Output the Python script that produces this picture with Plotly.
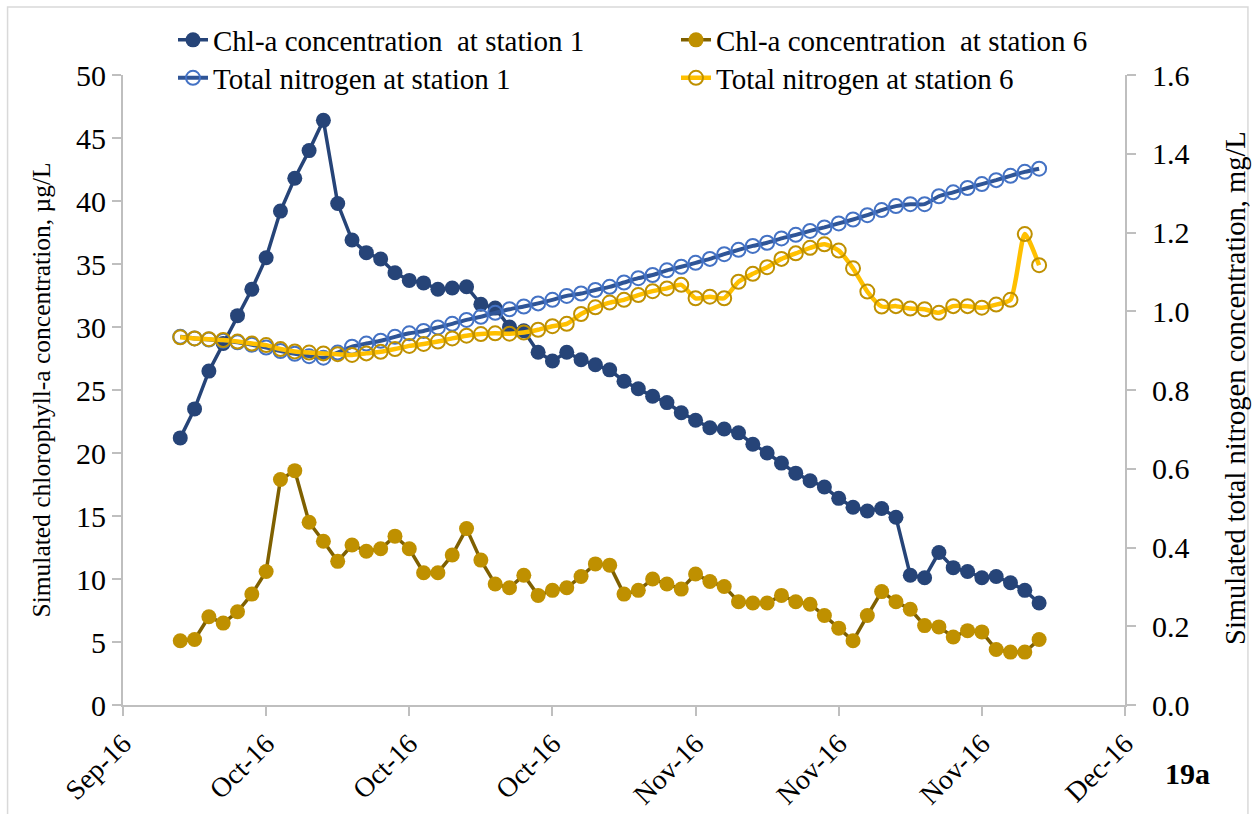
import plotly.graph_objects as go
import pandas as pd

# ---- data ----
dates = pd.date_range("2016-09-30", "2016-11-29", freq="D")

chl_st1 = [21.2, 23.5, 26.5, 28.7, 30.9, 33.0, 35.5, 39.2, 41.8, 44.0, 46.4,
           39.8, 36.9, 35.9, 35.4, 34.3, 33.7, 33.5, 33.0, 33.1, 33.2,
           31.8, 31.5, 30.0, 29.7, 28.0, 27.3, 28.0, 27.4, 27.0, 26.6,
           25.7, 25.1, 24.5, 24.0, 23.2, 22.6, 22.0, 21.9, 21.6, 20.7,
           20.0, 19.2, 18.4, 17.8, 17.3, 16.4, 15.7, 15.4, 15.6, 14.9,
           10.3, 10.1, 12.1, 10.9, 10.6, 10.1, 10.2, 9.7, 9.1, 8.1]

chl_st6 = [5.1, 5.2, 7.0, 6.5, 7.4, 8.8, 10.6, 17.9, 18.6, 14.5, 13.0,
           11.4, 12.7, 12.2, 12.4, 13.4, 12.4, 10.5, 10.5, 11.9, 14.0,
           11.5, 9.6, 9.3, 10.3, 8.7, 9.1, 9.3, 10.2, 11.2, 11.1,
           8.8, 9.1, 10.0, 9.6, 9.2, 10.4, 9.8, 9.4, 8.2, 8.1,
           8.1, 8.7, 8.2, 8.0, 7.1, 6.1, 5.1, 7.1, 9.0, 8.2,
           7.6, 6.3, 6.2, 5.4, 5.9, 5.8, 4.4, 4.2, 4.2, 5.2]

tn_st1 = [0.935, 0.931, 0.928, 0.925, 0.921, 0.915, 0.908, 0.899, 0.892, 0.886, 0.882,
          0.895, 0.910, 0.918, 0.925, 0.935, 0.944, 0.950, 0.959, 0.968, 0.978,
          0.986, 0.996, 1.005, 1.012, 1.020, 1.029, 1.039, 1.045, 1.054, 1.062,
          1.073, 1.084, 1.092, 1.104, 1.113, 1.123, 1.133, 1.145, 1.156, 1.166,
          1.174, 1.185, 1.194, 1.204, 1.213, 1.223, 1.233, 1.244, 1.257, 1.267,
          1.272, 1.272, 1.292, 1.302, 1.313, 1.323, 1.333, 1.344, 1.354, 1.362]

tn_st6 = [0.934, 0.931, 0.929, 0.927, 0.923, 0.918, 0.914, 0.904, 0.898, 0.895, 0.893,
          0.891, 0.889, 0.893, 0.897, 0.904, 0.912, 0.917, 0.923, 0.931, 0.938,
          0.942, 0.944, 0.943, 0.946, 0.953, 0.962, 0.968, 0.993, 1.010, 1.022,
          1.029, 1.041, 1.051, 1.058, 1.067, 1.033, 1.037, 1.033, 1.075, 1.095,
          1.112, 1.133, 1.147, 1.161, 1.170, 1.154, 1.109, 1.050, 1.012, 1.013,
          1.007, 1.005, 0.996, 1.013, 1.013, 1.009, 1.017, 1.029, 1.196, 1.117]

tick_dates = ["2016-09-26", "2016-10-06", "2016-10-16", "2016-10-26",
              "2016-11-05", "2016-11-15", "2016-11-25", "2016-12-05"]
tick_labels = ["Sep-16", "Oct-16", "Oct-16", "Oct-16",
               "Nov-16", "Nov-16", "Nov-16", "Dec-16"]

names = ["Chl-a concentration \u00a0at station 1",
         "Chl-a concentration \u00a0at station 6",
         "Total nitrogen at station 1",
         "Total nitrogen at station 6"]

FONT = "Liberation Serif"
W, H = 1255, 814
L, R, T, B = 122.5, 130, 75, 109
PW, PH = W - L - R, H - T - B


def px_x(p):
    return (p - L) / PW


def px_y(p):
    return (H - B - p) / PH


fig = go.Figure()
fig.add_trace(go.Scatter(x=dates, y=chl_st1, name=names[0], mode="lines+markers",
                         line=dict(color="#264478", width=3.5),
                         marker=dict(size=15, color="#264478"),
                         yaxis="y", legend="legend", showlegend=True))
fig.add_trace(go.Scatter(x=dates, y=chl_st6, name=names[1], mode="lines+markers",
                         line=dict(color="#7F6000", width=3.5),
                         marker=dict(size=15, color="#BF9000"),
                         yaxis="y", legend="legend2", showlegend=True))
fig.add_trace(go.Scatter(x=dates, y=tn_st1, name=names[2], mode="lines+markers",
                         line=dict(color="#2F5597", width=4, shape="spline", smoothing=0.6),
                         marker=dict(size=14, symbol="circle-open", color="#4472C4",
                                     line=dict(width=2, color="#4472C4")),
                         yaxis="y2", legend="legend3", showlegend=True))
fig.add_trace(go.Scatter(x=dates, y=tn_st6, name=names[3], mode="lines+markers",
                         line=dict(color="#FFC000", width=4.5, shape="spline", smoothing=0.6),
                         marker=dict(size=14, symbol="circle-open", color="#BF9000",
                                     line=dict(width=2, color="#BF9000")),
                         yaxis="y2", legend="legend4", showlegend=True))

axis_col = "#BFBFBF"
tickfont = dict(family=FONT, size=30, color="black")
xtickfont = dict(family=FONT, size=28, color="black")
legfont = dict(family=FONT, size=29, color="black")


def leg(xp, yp):
    return dict(x=xp / W, y=1 - yp / H, xref="container", yref="container",
                xanchor="left", yanchor="middle", orientation="v",
                font=legfont, bgcolor="rgba(0,0,0,0)", borderwidth=0, visible=True)


fig.update_layout(
    width=W, height=H,
    showlegend=True,
    margin=dict(l=L, r=R, t=T, b=B, autoexpand=False),
    paper_bgcolor="white", plot_bgcolor="white",
    font=dict(family=FONT, color="black"),
    xaxis=dict(type="date", range=[tick_dates[0], tick_dates[-1]],
               tickvals=tick_dates, ticktext=tick_labels, tickangle=-45,
               showgrid=False, zeroline=False, showline=True, linecolor=axis_col,
               linewidth=2, ticks="outside", ticklen=9, tickcolor=axis_col,
               tickwidth=2, tickfont=xtickfont),
    yaxis=dict(range=[0, 50], dtick=5, showgrid=False, zeroline=False,
               showline=True, linecolor=axis_col, linewidth=2, ticks="outside",
               ticklen=9, tickcolor=axis_col, tickwidth=2, tickfont=tickfont),
    yaxis2=dict(range=[0, 1.6], dtick=0.2, tickformat=".1f", overlaying="y",
                side="right", showgrid=False, zeroline=False, showline=True,
                linecolor=axis_col, linewidth=2, ticks="outside", ticklen=9,
                tickcolor=axis_col, tickwidth=2, tickfont=tickfont,
                ticklabelstandoff=10),
    yaxis3=dict(range=[0, 50], dtick=5, overlaying="y", side="left", anchor="x",
                showgrid=False, zeroline=False, showline=False, ticks="inside",
                ticklen=9, tickcolor=axis_col, tickwidth=2, showticklabels=False),
    yaxis4=dict(range=[0, 1.6], dtick=0.2, overlaying="y", side="right", anchor="x",
                showgrid=False, zeroline=False, showline=False, ticks="inside",
                ticklen=9, tickcolor=axis_col, tickwidth=2, showticklabels=False),
    legend=leg(173, 40),
    legend2=leg(676, 40),
    legend3=leg(173, 78),
    legend4=leg(676, 78),
    annotations=[
        dict(text="Simulated chlorophyll-a concentration, µg/L", textangle=-90,
             xref="paper", yref="paper", x=px_x(40), y=px_y(390),
             xanchor="center", yanchor="middle", showarrow=False,
             font=dict(family=FONT, size=25.5, color="black")),
        dict(text="Simulated total nitrogen concentration, mg/L", textangle=-90,
             xref="paper", yref="paper", x=px_x(1235), y=px_y(388),
             xanchor="center", yanchor="middle", showarrow=False,
             font=dict(family=FONT, size=28.5, color="black")),
        dict(text="<b>19a</b>", xref="paper", yref="paper", x=px_x(1188),
             y=px_y(773), xanchor="center", yanchor="middle", showarrow=False,
             font=dict(family=FONT, size=30, color="black")),
    ],
    shapes=[dict(type="rect", xref="paper", yref="paper", layer="below",
                 x0=px_x(7), x1=px_x(1248), y0=px_y(830), y1=px_y(7),
                 line=dict(color="#D9D9D9", width=1.5))],
)

fig.write_html("out.html")
